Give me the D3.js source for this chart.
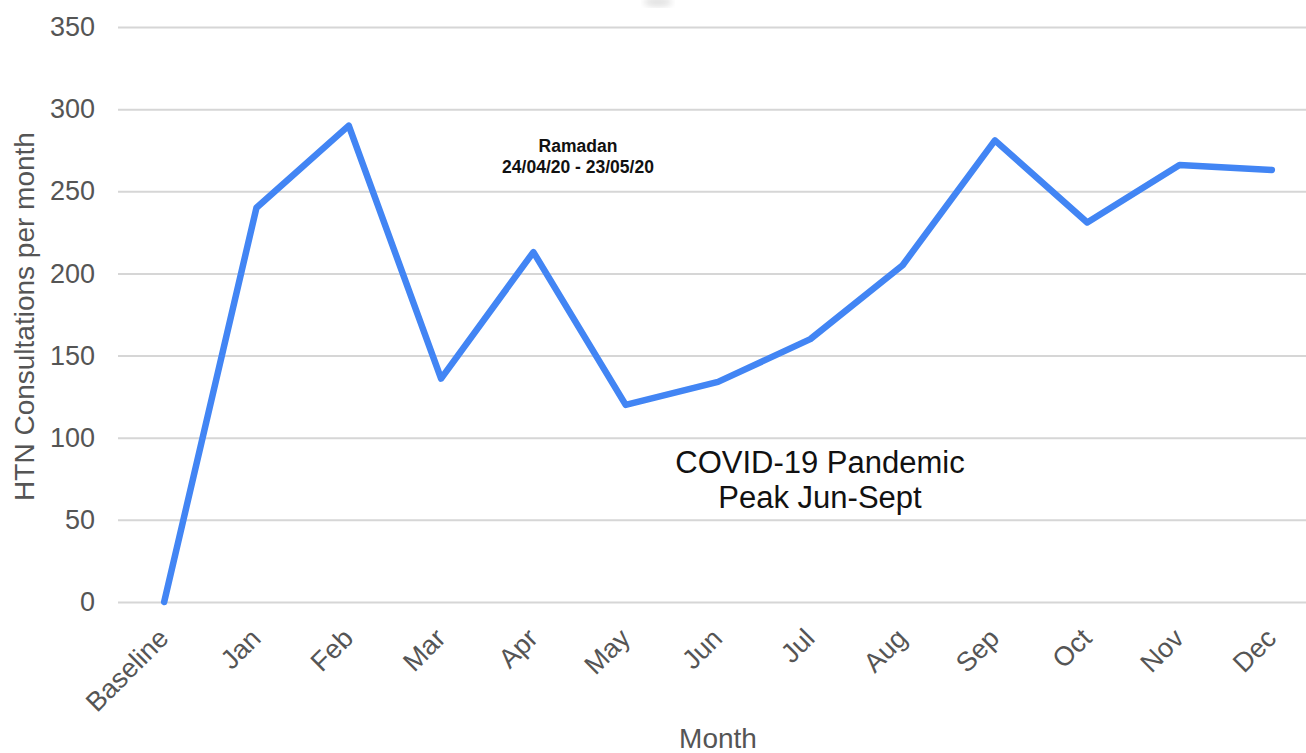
<!DOCTYPE html>
<html>
<head>
<meta charset="utf-8">
<script src="https://cdnjs.cloudflare.com/ajax/libs/d3/7.8.5/d3.min.js"></script>
<style>
  body { margin: 0; background: #fff; }
  svg { display: block; font-family: "Liberation Sans", Arial, sans-serif; }
</style>
</head>
<body>
<svg id="chart" width="1306" height="753"></svg>
<script>
'use strict'

// data
const months = ['Baseline', 'Jan', 'Feb', 'Mar', 'Apr', 'May', 'Jun', 'Jul', 'Aug', 'Sep', 'Oct', 'Nov', 'Dec']
const consultations = [0, 240, 290, 136, 213, 120, 134, 160, 205, 281, 231, 266, 263]
const yTicks = [0, 50, 100, 150, 200, 250, 300, 350]
const ramadanLines = ['Ramadan', '24/04/20 - 23/05/20']
const covidLines = ['COVID-19 Pandemic', 'Peak Jun-Sept']

const svg = d3.select('#chart')

const plot = { left: 118, right: 1318, top: 27, bottom: 602 }

const x = d3.scaleBand()
  .domain(months)
  .range([plot.left, plot.right])

const y = d3.scaleLinear()
  .domain([0, 350])
  .range([plot.bottom, plot.top])

const cx = d => x(d) + x.bandwidth() / 2

// faint blur at the top of the picture
const defs = svg.append('defs')
defs.append('filter').attr('id', 'blur')
  .append('feGaussianBlur').attr('stdDeviation', 3)
svg.append('ellipse')
  .attr('cx', 658).attr('cy', 2).attr('rx', 14).attr('ry', 5)
  .attr('fill', '#e2e2e2').attr('filter', 'url(#blur)')

// gridlines + y tick labels
const yAxis = d3.axisLeft(y)
  .tickValues(yTicks)
  .tickSize(-(plot.right - plot.left))
  .tickPadding(23)

const gy = svg.append('g')
  .attr('transform', `translate(${plot.left},0)`)
  .call(yAxis)
gy.select('.domain').remove()
gy.selectAll('.tick line').attr('stroke', '#d6d6d6').attr('stroke-width', 2)
gy.selectAll('.tick text')
  .attr('fill', '#555')
  .attr('font-size', 27)

// x tick labels, rotated
const xAxis = d3.axisBottom(x).tickSize(0).tickPadding(0)
const gx = svg.append('g')
  .attr('transform', `translate(0,${plot.bottom})`)
  .call(xAxis)
gx.select('.domain').remove()
gx.selectAll('.tick text')
  .attr('fill', '#555')
  .attr('font-size', 27)
  .attr('text-anchor', 'end')
  .attr('dy', 0)
  .attr('transform', 'translate(6,38) rotate(-45)')

// axis titles
svg.append('text')
  .attr('transform', `translate(34,${(plot.top + plot.bottom) / 2 + 2}) rotate(-90)`)
  .attr('text-anchor', 'middle')
  .attr('fill', '#555')
  .attr('font-size', 28)
  .text('HTN Consultations per month')

svg.append('text')
  .attr('x', (plot.left + plot.right) / 2)
  .attr('y', 748)
  .attr('text-anchor', 'middle')
  .attr('fill', '#555')
  .attr('font-size', 28)
  .text('Month')

// the series line
const line = d3.line()
  .x((d, i) => cx(months[i]))
  .y(d => y(d))

svg.append('path')
  .datum(consultations)
  .attr('d', line)
  .attr('fill', 'none')
  .attr('stroke', '#4285f4')
  .attr('stroke-width', 6.5)
  .attr('stroke-linejoin', 'round')
  .attr('stroke-linecap', 'round')

// annotations
svg.append('text')
  .attr('x', 578).attr('y', 152)
  .attr('text-anchor', 'middle')
  .attr('font-size', 17.5)
  .attr('font-weight', 'bold')
  .attr('fill', '#111')
  .selectAll('tspan')
  .data(ramadanLines)
  .join('tspan')
  .attr('x', 578)
  .attr('dy', (d, i) => i ? 21 : 0)
  .text(d => d)

svg.append('text')
  .attr('x', 820).attr('y', 473)
  .attr('text-anchor', 'middle')
  .attr('font-size', 31)
  .attr('fill', '#111')
  .selectAll('tspan')
  .data(covidLines)
  .join('tspan')
  .attr('x', 820)
  .attr('dy', (d, i) => i ? 35 : 0)
  .text(d => d)
</script>
</body>
</html>
